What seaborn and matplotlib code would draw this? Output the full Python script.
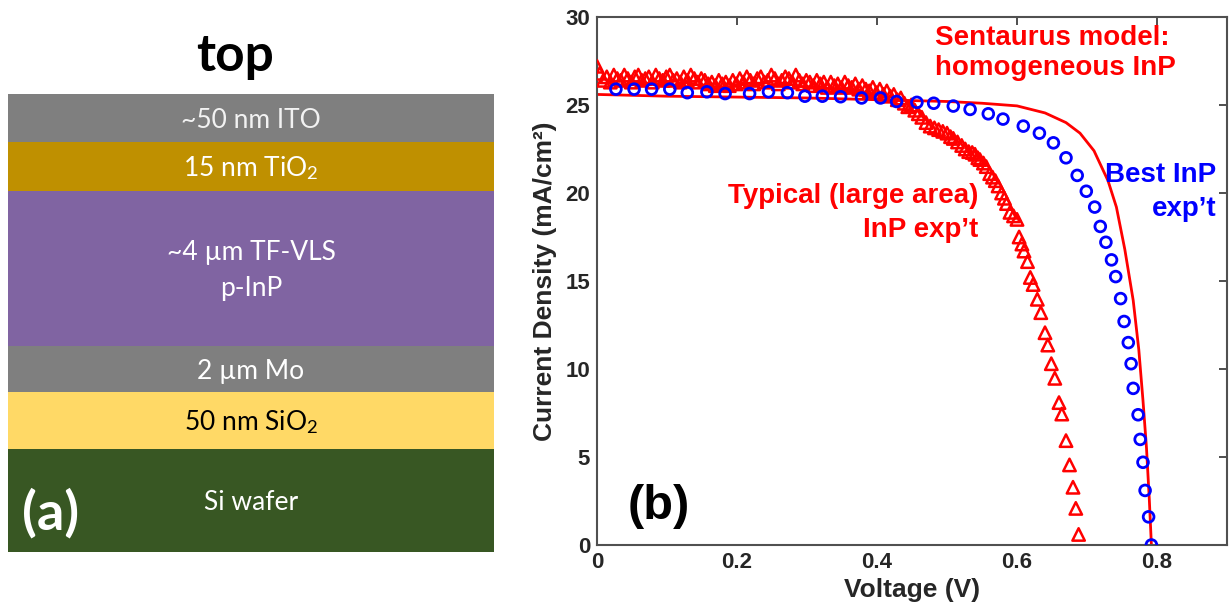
import matplotlib
matplotlib.use("Agg")
import matplotlib.pyplot as plt
import seaborn as sns

# ---------------- layer stack (panel a) ----------------
layer_labels = ["~50 nm ITO", "15 nm TiO$_2$", "~4 µm TF-VLS\np-InP",
                "2 µm Mo", "50 nm SiO$_2$", "Si wafer"]
layer_colors = ["#7F7F7F", "#BF9000", "#8064A2", "#7F7F7F", "#FFD966", "#385723"]
layer_text_colors = ["#F2F2F2", "white", "white", "white", "black", "white"]
# drawing thickness of each layer (schematic, not to scale)
layer_draw_heights = [48, 49, 155, 46, 57, 103]

# ---------------- J-V curves (panel b) ----------------
model_v = [0.0, 0.1, 0.2, 0.3, 0.4, 0.5, 0.55, 0.6, 0.64, 0.67, 0.69, 0.71,
           0.73, 0.742, 0.754, 0.766, 0.774, 0.78, 0.785, 0.789, 0.792]
model_j = [25.6, 25.5, 25.45, 25.4, 25.3, 25.2, 25.1, 24.95, 24.55, 24.0, 23.4,
           22.4, 20.7, 19.2, 16.8, 13.9, 11.1, 8.2, 5.5, 2.6, 0.0]

best_v = [0.027, 0.053, 0.078, 0.104, 0.129, 0.157, 0.183, 0.218, 0.245, 0.272,
          0.297, 0.322, 0.348, 0.378, 0.405, 0.428, 0.457, 0.481, 0.509, 0.533,
          0.559, 0.580, 0.609, 0.632, 0.652, 0.670, 0.686, 0.699, 0.711, 0.719,
          0.727, 0.735, 0.741, 0.748, 0.753, 0.759, 0.763, 0.766, 0.773, 0.776,
          0.780, 0.783, 0.788, 0.792]
best_j = [25.9, 25.9, 25.9, 25.9, 25.7, 25.75, 25.65, 25.65, 25.75, 25.7,
          25.5, 25.5, 25.47, 25.4, 25.4, 25.2, 25.15, 25.1, 24.94, 24.75,
          24.5, 24.2, 23.8, 23.4, 22.85, 22.0, 21.0, 20.1, 19.2, 18.1,
          17.2, 16.2, 15.25, 14.0, 12.7, 11.5, 10.3, 8.9, 7.4, 6.0,
          4.7, 3.1, 1.6, 0.0]

typ_v = [0.000, 0.004, 0.009, 0.014, 0.019, 0.024, 0.029, 0.034, 0.039, 0.044,
         0.049, 0.054, 0.059, 0.064, 0.069, 0.074, 0.079, 0.084, 0.089, 0.094,
         0.099, 0.104, 0.109, 0.114, 0.119, 0.124, 0.129, 0.134, 0.139, 0.144,
         0.149, 0.154, 0.159, 0.164, 0.169, 0.174, 0.179, 0.184, 0.189, 0.194,
         0.199, 0.204, 0.209, 0.214, 0.219, 0.224, 0.229, 0.234, 0.239, 0.244,
         0.249, 0.254, 0.259, 0.264, 0.269, 0.274, 0.279, 0.284, 0.289, 0.294,
         0.299, 0.304, 0.309, 0.314, 0.319, 0.324, 0.329, 0.334, 0.339, 0.344,
         0.349, 0.354, 0.359, 0.364, 0.369, 0.374, 0.379, 0.384, 0.389, 0.394,
         0.399, 0.404, 0.409, 0.414, 0.419, 0.424, 0.429, 0.434, 0.439, 0.444,
         0.449, 0.454, 0.459, 0.464, 0.470, 0.476, 0.482, 0.488, 0.494, 0.500,
         0.505, 0.509, 0.515, 0.521, 0.526, 0.531, 0.536, 0.540, 0.544, 0.547,
         0.552, 0.556, 0.561, 0.565, 0.569, 0.573, 0.578, 0.582, 0.585, 0.590,
         0.595, 0.600, 0.603, 0.607, 0.610, 0.615, 0.619, 0.623, 0.629, 0.634,
         0.640, 0.644, 0.649, 0.654, 0.660, 0.664, 0.670, 0.675, 0.680, 0.684,
         0.688]
typ_j = [27.2, 26.8, 26.4, 26.6, 26.3, 26.7, 26.5, 26.4, 26.7, 26.5,
         26.3, 26.6, 26.7, 26.4, 26.5, 26.6, 26.3, 26.7, 26.5, 26.4,
         26.6, 26.7, 26.4, 26.5, 26.3, 26.6, 26.4, 26.7, 26.5, 26.3,
         26.5, 26.4, 26.2, 26.3, 26.1, 26.4, 26.2, 26.3, 26.1, 26.4,
         26.2, 26.5, 26.3, 26.6, 26.4, 26.2, 26.5, 26.6, 26.3, 26.4,
         26.7, 26.5, 26.2, 26.4, 26.6, 26.5, 26.3, 26.7, 26.4, 26.2,
         26.4, 26.3, 26.1, 26.4, 26.2, 26.3, 26.0, 26.3, 26.1, 26.2,
         26.0, 26.3, 26.1, 26.0, 26.2, 25.9, 26.1, 25.9, 25.8, 26.0,
         25.7, 25.9, 25.6, 25.8, 25.5, 25.6, 25.3, 25.4, 25.1, 24.9,
         25.0, 24.7, 24.5, 24.3, 24.0, 23.8, 23.7, 23.6, 23.5, 23.4,
         23.2, 23.1, 22.9, 22.7, 22.5, 22.35, 22.3, 22.2, 22.0, 21.9,
         21.7, 21.5, 21.1, 20.9, 20.7, 20.4, 20.0, 19.7, 19.4, 18.9,
         18.7, 18.5, 17.5, 17.1, 16.7, 16.1, 15.2, 14.8, 13.96, 13.2,
         12.06, 11.36, 10.3, 9.47, 8.09, 7.44, 5.93, 4.55, 3.28, 2.08,
         0.6]

x_ticks = [0, 0.2, 0.4, 0.6, 0.8]
x_tick_labels = ["0", "0.2", "0.4", "0.6", "0.8"]
y_ticks = [0, 5, 10, 15, 20, 25, 30]
y_tick_labels = ["0", "5", "10", "15", "20", "25", "30"]

# ---------------- style ----------------
sns.set_style("white")
plt.rcParams["font.family"] = ["Liberation Sans", "DejaVu Sans"]
plt.rcParams["mathtext.fontset"] = "custom"
plt.rcParams["mathtext.rm"] = "Lato"
plt.rcParams["mathtext.it"] = "Lato:italic"
plt.rcParams["mathtext.bf"] = "Lato:bold"

W, H = 1230, 607
fig = plt.figure(figsize=(W / 100, H / 100), dpi=100)
fig.patch.set_facecolor("white")

# ---------------- panel (a): layer stack ----------------
ax_a = fig.add_axes([8 / W, (H - 552) / H, 486 / W, 458 / H])
stack_total = sum(layer_draw_heights)
ax_a.set_xlim(0, 1)
ax_a.set_ylim(stack_total, 0)
ax_a.axis("off")
lato = ["Lato", "DejaVu Sans"]
top_edge = 0
for lab, col, tcol, h in zip(layer_labels, layer_colors, layer_text_colors,
                             layer_draw_heights):
    ax_a.bar(0.5, h, width=1.0, bottom=top_edge, color=col, edgecolor="none")
    ax_a.text(0.5, top_edge + h / 2 + 2, lab, ha="center", va="center",
              color=tcol, fontsize=19, family=lato, linespacing=1.55)
    top_edge += h

ax_a.text(0.088, stack_total - 39, "(a)", ha="center", va="center",
          color="white", fontsize=39, fontweight="bold", family=lato)
fig.text(235 / W, (H - 57) / H, "top", ha="center", va="center",
         fontsize=37, fontweight="bold", family=lato, color="black")

# ---------------- panel (b): J-V ----------------
ax = fig.add_axes([597 / W, (H - 545) / H, 630 / W, 528 / H])
sns.lineplot(x=model_v, y=model_j, color="#FF0000", linewidth=2.0,
             sort=False, estimator=None, ax=ax, zorder=2)
sns.scatterplot(x=typ_v, y=typ_j, marker="^", s=80, facecolor="none",
                edgecolor="#FF0000", linewidth=1.8, ax=ax, zorder=3)
sns.scatterplot(x=best_v, y=best_j, marker="o", s=60, facecolor="none",
                edgecolor="#0000FF", linewidth=2.0, ax=ax, zorder=4)

ax.set_xlim(0, 0.9)
ax.set_ylim(0, 30)
ax.set_xticks(x_ticks)
ax.set_xticklabels(x_tick_labels)
ax.set_yticks(y_ticks)
ax.set_yticklabels(y_tick_labels)
ax.tick_params(direction="in", top=True, right=True, length=6, width=1.3,
               color="#404040", labelsize=16, pad=5)
for lbl in ax.get_xticklabels() + ax.get_yticklabels():
    lbl.set_fontweight("bold")
for sp in ax.spines.values():
    sp.set_color("#505050")
    sp.set_linewidth(1.5)
ax.set_xlabel("Voltage (V)", fontsize=19, fontweight="bold", labelpad=4)
ax.set_ylabel("Current Density (mA/cm²)", fontsize=19, fontweight="bold",
              labelpad=6)

ax.text(0.483, 29.55, "Sentaurus model:\nhomogeneous InP", ha="left", va="top",
        color="#FF0000", fontsize=20, fontweight="bold", linespacing=1.2)
ax.text(0.545, 20.55, "Typical (large area)\nInP exp’t", ha="right", va="top",
        color="#FF0000", fontsize=20, fontweight="bold", linespacing=1.4,
        multialignment="right")
ax.text(0.885, 21.75, "Best InP\nexp’t", ha="right", va="top",
        color="#0000FF", fontsize=20, fontweight="bold", linespacing=1.4,
        multialignment="right")
ax.text(0.088, 2.2, "(b)", ha="center", va="center", color="black",
        fontsize=35, fontweight="bold")

fig.savefig("out.png", dpi=100, facecolor="white")
